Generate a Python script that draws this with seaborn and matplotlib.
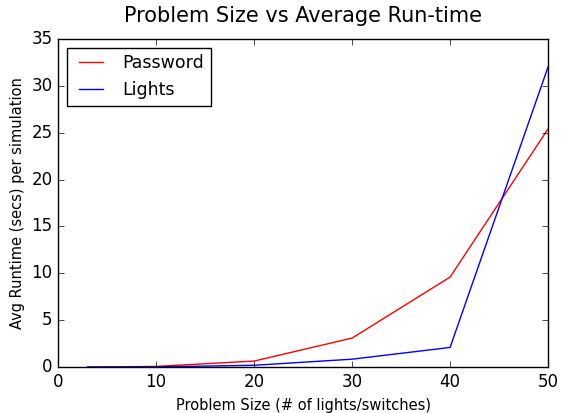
import matplotlib
matplotlib.use("Agg")
import matplotlib.pyplot as plt
import seaborn as sns
import pandas as pd

sizes = [3, 10, 20, 30, 40, 50]
password = [0.01, 0.08, 0.65, 3.1, 9.6, 25.4]
lights = [0.01, 0.03, 0.2, 0.85, 2.1, 32.0]

plt.style.use("classic")
plt.rcParams["font.family"] = ["DejaVu Sans"]

df = pd.DataFrame({
    "size": sizes * 2,
    "runtime": password + lights,
    "series": ["Password"] * len(sizes) + ["Lights"] * len(sizes),
})

fig = plt.figure(figsize=(5.65, 4.13), dpi=100)
ax = fig.add_axes([0.103, 0.111, 0.867, 0.795])
sns.lineplot(data=df, x="size", y="runtime", hue="series",
             palette={"Password": "red", "Lights": "blue"}, ax=ax, lw=1)
ax.set_xlim(0, 50)
ax.set_ylim(0, 35)
ax.set_title("Problem Size vs Average Run-time", fontsize=15, pad=12)
ax.set_xlabel("Problem Size (# of lights/switches)", fontsize=10.5)
ax.set_ylabel("Avg Runtime (secs) per simulation", fontsize=10.5)
ax.tick_params(labelsize=12)
ax.legend(loc="upper left", fontsize=12.5, title=None)
fig.savefig("out.png", dpi=100)
